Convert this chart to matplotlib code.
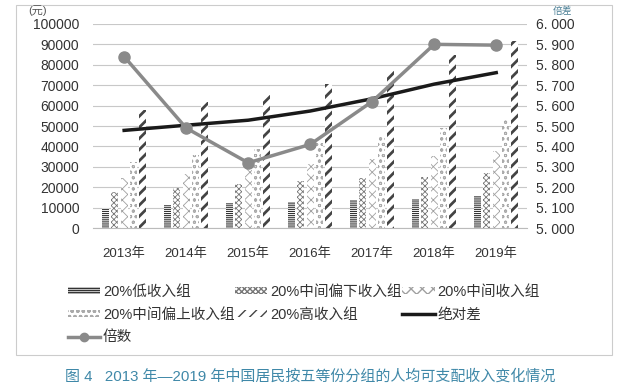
import matplotlib
matplotlib.use("Agg")
import matplotlib.pyplot as plt
import numpy as np
from matplotlib.patches import Patch, Rectangle
from matplotlib.lines import Line2D

plt.rcParams['font.family'] = ['Liberation Sans', 'Noto Sans CJK SC', 'DejaVu Sans']
plt.rcParams['axes.unicode_minus'] = False

# ------------------------------- data
years = ['2013年', '2014年', '2015年', '2016年', '2017年', '2018年', '2019年']
low = [9896, 11219, 12231, 13004, 13723, 14387, 15549]
lower_mid = [17628, 19651, 21446, 23055, 24550, 24857, 26784]
middle = [24518, 26651, 29105, 31522, 33781, 35196, 37876]
upper_mid = [32415, 35631, 38572, 41806, 45163, 49174, 52907]
high = [57762, 61615, 65082, 70348, 77097, 84907, 91683]
abs_diff = [47866, 50396, 52851, 57344, 63374, 70520, 76134]
ratio = [5.84, 5.49, 5.32, 5.41, 5.62, 5.90, 5.896]

group_names = ['20%低收入组', '20%中间偏下收入组', '20%中间收入组', '20%中间偏上收入组', '20%高收入组']
hatches = ['--------', 'xxxxxx', 'xxx', 'ooo', '///']
hatch_cols = ['#333333', '#777777', '#a0a0a0', '#aaaaaa', '#444444']
hatch_lws = [0.8, 0.6, 0.6, 0.7, 2.0]

fig = plt.figure(figsize=(6.21, 3.92), dpi=100)
ax = fig.add_axes([0.150, 0.418, 0.699, 0.521])
ax2 = ax.twinx()

x = np.arange(len(years))
step = 0.15
w = 0.115
series = [low, lower_mid, middle, upper_mid, high]
for i, vals in enumerate(series):
    bars = ax.bar(x + (i - 2) * step, vals, width=w, facecolor='white',
                  edgecolor=hatch_cols[i], hatch=hatches[i], linewidth=0, zorder=2)
    for b in bars:
        b.set_hatch_linewidth(hatch_lws[i])

ax.plot(x, abs_diff, color='#1a1a1a', linewidth=2.5, zorder=4)
ax2.plot(x, ratio, color='#8a8a8a', linewidth=2.5, marker='o', markersize=8, zorder=5)

ax.set_xlim(-0.5, len(years) - 0.5)
ax.set_ylim(0, 100000)
ax.set_yticks(np.arange(0, 100001, 10000))
ax.set_yticklabels([str(v) for v in range(0, 100001, 10000)])
ax2.set_ylim(5.0, 6.0)
ax2.set_yticks(np.linspace(5.0, 6.0, 11))
ax2.set_yticklabels([('%.3f' % v).replace('.', '. ') for v in np.linspace(5.0, 6.0, 11)])

ax.set_xticks(x)
ax.set_xticklabels(years)
ax.grid(axis='y', color='#c8c8c8', linewidth=0.8, zorder=0)
ax.set_axisbelow(True)
for a in (ax, ax2):
    for s in a.spines.values():
        s.set_visible(False)
    a.tick_params(length=0, labelsize=10, colors='#333333')
ax.spines['bottom'].set_visible(True)
ax.spines['bottom'].set_color('#bbbbbb')
ax.tick_params(axis='x', pad=14, labelsize=9.5)
ax.tick_params(axis='y', pad=10)
ax2.tick_params(axis='y', pad=6)

fig.text(0.045, 0.965, '(元)', fontsize=8, color='#555555')
fig.text(0.905, 0.965, '倍差', fontsize=7, color='#4a7f95', ha='center')

# ------------------------------- legend, row-major order
handles = [Patch(facecolor='white', edgecolor=hatch_cols[i], hatch=hatches[i], linewidth=0)
           for i in range(5)]
handles.append(Line2D([], [], color='#1a1a1a', linewidth=2.5))
handles.append(Line2D([], [], color='#8a8a8a', linewidth=2.5, marker='o', markersize=6))
labels = group_names + ['绝对差', '倍数']
order = [0, 3, 6, 1, 4, 2, 5]
fig.legend([handles[i] for i in order], [labels[i] for i in order],
           loc='upper left', bbox_to_anchor=(0.088, 0.307), ncol=3, frameon=False,
           fontsize=10.5, handlelength=2.2, handleheight=0.4, handletextpad=0.2,
           columnspacing=0.05, labelspacing=0.6, labelcolor='#333333')

fig.patches.append(Rectangle((0.026, 0.094), 0.960, 0.893, transform=fig.transFigure,
                             fill=False, edgecolor='#cccccc', linewidth=0.8))

fig.text(0.5, 0.04, '图 4   2013 年—2019 年中国居民按五等份分组的人均可支配收入变化情况',
         ha='center', va='center', fontsize=10.8, color='#3f88a8')

fig.savefig('out.png', dpi=100)
